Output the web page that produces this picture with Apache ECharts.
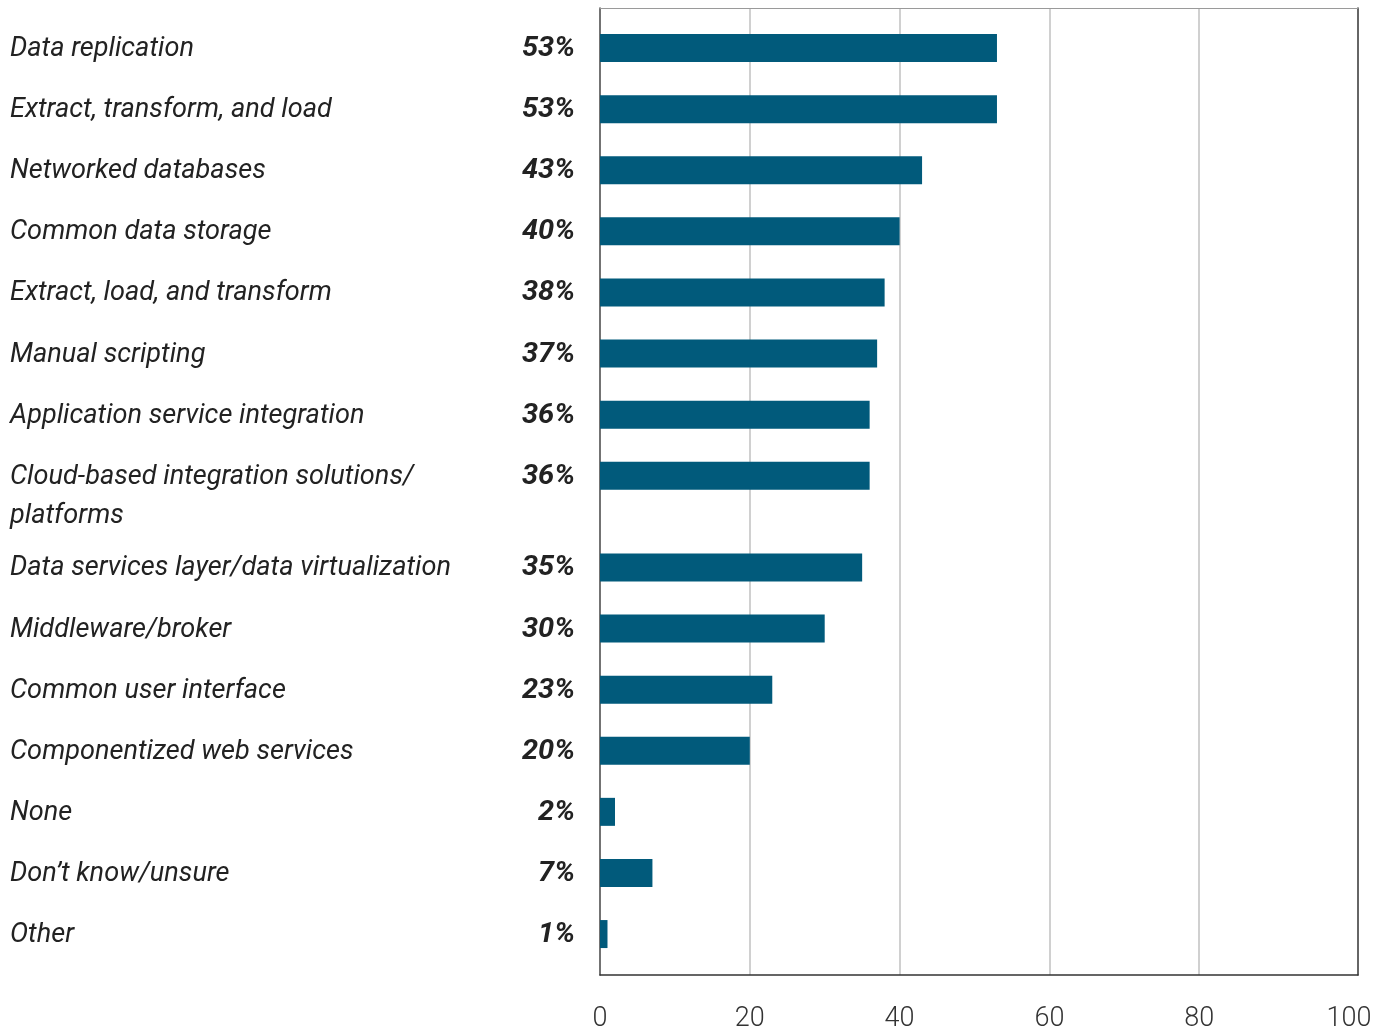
<!DOCTYPE html>
<html>
<head>
<meta charset="utf-8">
<script src="https://cdn.jsdelivr.net/npm/echarts@6/dist/echarts.min.js"></script>
<style>
html,body{margin:0;padding:0;background:#fff;}
#chart{width:1393px;height:1036px;}
</style>
</head>
<body>
<div id="chart"></div>
<script>
const categories = [
  'Data replication',
  'Extract, transform, and load',
  'Networked databases',
  'Common data storage',
  'Extract, load, and transform',
  'Manual scripting',
  'Application service integration',
  'Cloud-based integration solutions/\nplatforms',
  'Data services layer/data virtualization',
  'Middleware/broker',
  'Common user interface',
  'Componentized web services',
  'None',
  'Don\u2019t know/unsure',
  'Other'
];
const values = [53, 53, 43, 40, 38, 37, 36, 36, 35, 30, 23, 20, 2, 7, 1];
const xTicks = [0, 20, 40, 60, 80, 100];

// row positions: a two-line label takes 1.5 rows
const rowPos = [];
categories.forEach((c, i) => {
  if (i === 0) rowPos.push(0);
  else rowPos.push(rowPos[i - 1] + (categories[i - 1].includes('\n') ? 1.5 : 1));
});
const seriesData = values.map((v, i) => [v, rowPos[i]]);
const lastPos = rowPos[rowPos.length - 1];

const FONT = 'Roboto, "Noto Sans", sans-serif';
const CAT_FONT = 'italic 28px ' + FONT;
const PCT_FONT = 'italic bold 28px ' + FONT;

// emulate the condensed face of the original with a horizontal squeeze
const mctx = document.createElement('canvas').getContext('2d');
mctx.font = CAT_FONT;
const catScale = 441 / mctx.measureText('Data services layer/data virtualization').width;
mctx.font = PCT_FONT;
const pctScale = 53 / mctx.measureText('53%').width;

const hiddenAxis = {
  axisLine: { show: false }, axisTick: { show: false },
  axisLabel: { show: false }, splitLine: { show: false }
};

const chart = echarts.init(document.getElementById('chart'));
chart.setOption({
  animation: false,
  grid: [
    // frame
    { left: 600, right: 35, top: 8, bottom: 61 },
    // data area
    { left: 600, right: 44, top: 8, bottom: 61 }
  ],
  xAxis: [
    { gridIndex: 0, type: 'value', min: 0, max: 1, position: 'bottom',
      axisLine: { show: true, onZero: false, lineStyle: { color: '#333', width: 1.5 } },
      axisTick: { show: false }, axisLabel: { show: false }, splitLine: { show: false } },
    { gridIndex: 0, type: 'value', min: 0, max: 1, position: 'top',
      axisLine: { show: true, onZero: false, lineStyle: { color: '#9a9a9a', width: 1.2 } },
      axisTick: { show: false }, axisLabel: { show: false }, splitLine: { show: false } },
    { gridIndex: 1, type: 'value', min: xTicks[0], max: xTicks[xTicks.length - 1], interval: 20,
      position: 'bottom',
      axisLine: { show: false, onZero: false },
      axisTick: { show: false },
      splitLine: { show: true, showMinLine: false, showMaxLine: false,
                   lineStyle: { color: '#d0d0d0', width: 2 } },
      axisLabel: { fontFamily: FONT, fontSize: 27, fontWeight: 300, color: '#333', margin: 31 } }
  ],
  yAxis: [
    { gridIndex: 0, type: 'value', min: 0, max: 1, position: 'left',
      axisLine: { show: true, onZero: false, lineStyle: { color: '#444', width: 1.5 } },
      axisTick: { show: false }, axisLabel: { show: false }, splitLine: { show: false } },
    { gridIndex: 0, type: 'value', min: 0, max: 1, position: 'right',
      axisLine: { show: true, onZero: false, lineStyle: { color: '#333', width: 1.5 } },
      axisTick: { show: false }, axisLabel: { show: false }, splitLine: { show: false } },
    Object.assign({ gridIndex: 1, type: 'value', inverse: true, min: -0.655, max: lastPos + 0.67 }, hiddenAxis)
  ],
  series: [{
    type: 'custom',
    xAxisIndex: 2,
    yAxisIndex: 2,
    clip: false,
    data: seriesData,
    renderItem: function (params, api) {
      const v = api.value(0), p = api.value(1);
      const s = api.coord([0, p]);
      const e = api.coord([v, p]);
      const h = 28;
      const lh = 39;
      return {
        type: 'group',
        children: [
          { type: 'rect', shape: { x: s[0], y: s[1] - h / 2, width: e[0] - s[0], height: h },
            style: { fill: '#015a7b' } },
          { type: 'text', x: s[0] - 25, y: s[1] + 1, scaleX: pctScale,
            style: { text: v + '%', x: 0, y: 0, align: 'right', verticalAlign: 'middle',
            font: PCT_FONT, fill: '#222' } },
          { type: 'text', x: 10, y: s[1] + 1, scaleX: catScale,
            style: { text: categories[params.dataIndex], x: 0, y: -lh / 2,
            align: 'left', verticalAlign: 'top', lineHeight: lh,
            font: CAT_FONT, fill: '#222' } }
        ]
      };
    }
  }]
});
</script>
</body>
</html>
